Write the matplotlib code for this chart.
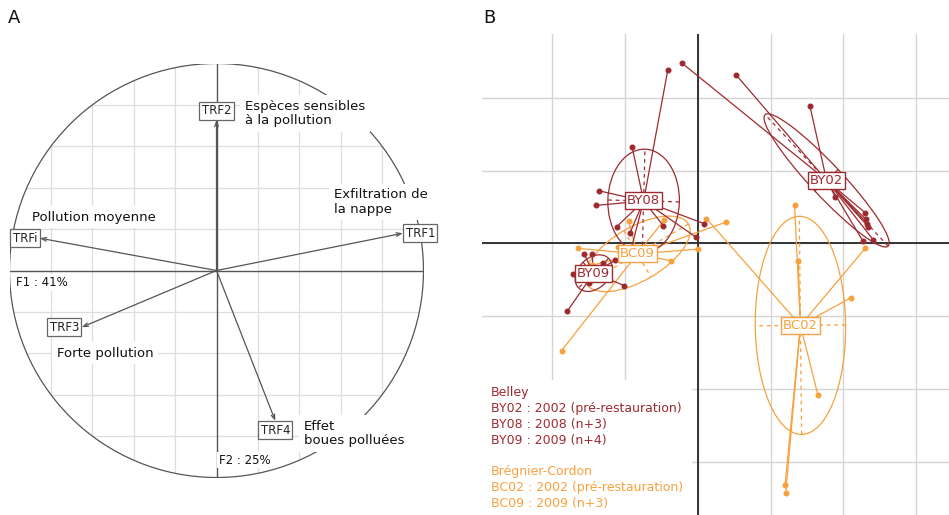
import numpy as np
import matplotlib
matplotlib.use("Agg")
import matplotlib.pyplot as plt
from matplotlib.patches import Circle, Ellipse, Rectangle

plt.rcParams['font.family'] = ['DejaVu Sans']

# ---------------- DATA ----------------
# Panel A: correlation circle (arrow tips in unit-circle coordinates)
trf_names = ["TRF1", "TRF2", "TRF3", "TRF4", "TRFi"]
trf_x = [0.90, 0.0, -0.651, 0.284, -0.853]
trf_y = [0.18, 0.727, -0.274, -0.726, 0.156]
axis_labels = ["F1 : 41%", "F2 : 25%"]
trait_texts = ["Espèces sensibles\nà la pollution", "Exfiltration de\nla nappe",
               "Pollution moyenne", "Forte pollution", "Effet\nboues polluées"]

# Panel B: site scores by group
groups = ["BY02", "BY08", "BY09", "BC02", "BC09"]
by02_x = [-0.21, 0.53, 1.54, 2.30, 2.31, 2.33, 2.34, 1.89, 2.27, 2.41]
by02_y = [2.47, 2.31, 1.89, 0.42, 0.33, 0.27, 0.23, 0.64, 0.03, 0.05]
by08_x = [-0.41, -0.90, -1.35, -1.40, -1.11, -0.93, -0.47, 0.09, -0.03, -0.92]
by08_y = [2.385, 1.32, 0.72, 0.52, 0.23, 0.14, 0.24, 0.27, 0.09, -0.10]
by09_x = [-1.56, -1.45, -1.30, -1.13, -1.71, -1.49, -1.01, -1.79]
by09_y = [-0.15, -0.15, -0.27, -0.23, -0.42, -0.55, -0.58, -0.93]
bc02_x = [0.12, 1.33, 1.38, 2.30, 2.10, 1.65, 1.20, 1.21]
bc02_y = [0.34, 0.53, -0.24, -0.07, -0.75, -2.08, -3.32, -3.43]
bc09_x = [-1.64, 0.0, -0.37, -1.87, -1.10, 0.385, -0.95, -0.46, -1.45]
bc09_y = [-0.07, -0.08, -0.24, -1.475, -0.05, 0.29, 0.30, 0.32, -0.30]
group_site = ["Belley", "Belley", "Belley", "Brégnier-Cordon", "Brégnier-Cordon"]
legend_belley = ["Belley", "BY02 : 2002 (pré-restauration)", "BY08 : 2008 (n+3)", "BY09 : 2009 (n+4)"]
legend_bc = ["Brégnier-Cordon", "BC02 : 2002 (pré-restauration)", "BC09 : 2009 (n+3)"]

site_colors = {"Belley": "#9e2a2f", "Brégnier-Cordon": "#f7a13e"}

W, H = 949, 515
fig = plt.figure(figsize=(W / 100, H / 100), dpi=100)


def fpos(px, py):
    return px / W, 1 - py / H


# ---------------- PANEL A ----------------
cx, cy, R = 216.5, 270.5, 207.0
axA = fig.add_axes([(cx - R) / W, (H - (cy + R)) / H, 2 * R / W, 2 * R / H])
axA.set_xlim(-1, 1)
axA.set_ylim(-1, 1)
axA.axis("off")

clip_circle = Circle((0, 0), 1, transform=axA.transData, fc="none", ec="none")
axA.add_patch(clip_circle)
for g in np.arange(-0.8, 0.81, 0.2):
    if abs(g) < 1e-9:
        continue
    l1, = axA.plot([g, g], [-1, 1], color="#dedede", lw=0.9, zorder=1)
    l2, = axA.plot([-1, 1], [g, g], color="#dedede", lw=0.9, zorder=1)
    l1.set_clip_path(clip_circle)
    l2.set_clip_path(clip_circle)

axA.plot([-1, 1], [0, 0], color="#555555", lw=1.0, zorder=2)
axA.plot([0, 0], [-1, 1], color="#555555", lw=1.0, zorder=2)
axA.add_patch(Circle((0, 0), 1, fc="none", ec="#555555", lw=0.9, zorder=2))

for name, x, y in zip(trf_names, trf_x, trf_y):
    axA.annotate("", xy=(x, y), xytext=(0, 0),
                 arrowprops=dict(arrowstyle="->,head_length=0.35,head_width=0.13",
                                 color="#555555", lw=0.9, shrinkA=0, shrinkB=0),
                 zorder=3)
    if abs(x) > abs(y):
        ha = "left" if x > 0 else "right"
        va = "center"
        off = (2 if x > 0 else -2, 0)
    else:
        ha = "center"
        va = "bottom" if y > 0 else "top"
        off = (0, 2 if y > 0 else -2)
    axA.annotate(name, xy=(x, y), xytext=off, textcoords="offset points",
                 ha=ha, va=va, fontsize=8.5, color="#222222", zorder=5,
                 bbox=dict(boxstyle="square,pad=0.2", fc="white", ec="#666666", lw=0.9))


def a_text(s, px, py, **kw):
    x, y = (px - cx) / R, (cy - py) / R
    axA.text(x, y, s, ha="left", va="center", color="#111111", zorder=4,
             linespacing=1.15, **kw)

box = dict(boxstyle="square,pad=0.35", fc="white", ec="none")
a_text(trait_texts[0], 245, 113.5, fontsize=9.5, bbox=box)
a_text(trait_texts[1], 334, 202, fontsize=9.5, bbox=box)
a_text(trait_texts[2], 32, 217, fontsize=9.5, bbox=box)
a_text(trait_texts[3], 57, 353.3, fontsize=9.5, bbox=box)
a_text(trait_texts[4], 304, 433.7, fontsize=9.5, bbox=box)
a_text(axis_labels[0], 16, 282.7, fontsize=8.5,
       bbox=dict(boxstyle="square,pad=0.15", fc="white", ec="none"))
a_text(axis_labels[1], 219, 460, fontsize=8.5,
       bbox=dict(boxstyle="square,pad=0.15", fc="white", ec="none"))

# ---------------- PANEL B ----------------
ox, oy, s = 697.7, 243.3, 72.8
left_px, right_px, top_px, bot_px = 482, 949, 34, 515
axB = fig.add_axes([left_px / W, (H - bot_px) / H, (right_px - left_px) / W, (bot_px - top_px) / H])
axB.set_xlim((left_px - ox) / s, (right_px - ox) / s)
axB.set_ylim((oy - bot_px) / s, (oy - top_px) / s)
axB.axis("off")

for g in range(-3, 4):
    axB.axvline(g, color="#d4d4d4", lw=1.0, zorder=0)
    axB.axhline(g, color="#d4d4d4", lw=1.0, zorder=0)
axB.axvline(0, color="#333333", lw=1.4, zorder=1)
axB.axhline(0, color="#333333", lw=1.4, zorder=1)

gx = [by02_x, by08_x, by09_x, bc02_x, bc09_x]
gy = [by02_y, by08_y, by09_y, bc02_y, bc09_y]
draw_order = [3, 4, 0, 1, 2]
for i in draw_order:
    name = groups[i]
    col = site_colors[group_site[i]]
    xs, ys = np.array(gx[i]), np.array(gy[i])
    mx, my = xs.mean(), ys.mean()
    for x, y in zip(xs, ys):
        axB.plot([mx, x], [my, y], color=col, lw=0.9, zorder=2)
    axB.plot(xs, ys, "o", color=col, ms=3.3, zorder=3, mec=col)
    cov = np.cov(np.vstack([xs, ys]), bias=True)
    vals, vecs = np.linalg.eigh(cov)
    order = np.argsort(vals)[::-1]
    vals, vecs = vals[order], vecs[:, order]
    a, b = np.sqrt(vals)
    ang = np.degrees(np.arctan2(vecs[1, 0], vecs[0, 0]))
    axB.add_patch(Ellipse((mx, my), 2 * a, 2 * b, angle=ang, fc="none", ec=col, lw=0.9, zorder=2))
    for k, ln in enumerate((a, b)):
        v = vecs[:, k] * ln
        axB.plot([mx - v[0], mx + v[0]], [my - v[1], my + v[1]], color=col, lw=0.9,
                 ls=(0, (3, 3)), zorder=2)
    axB.text(mx, my, name, ha="center", va="center", fontsize=9.5, color=col, zorder=6,
             bbox=dict(boxstyle="square,pad=0.15", fc="white", ec=col, lw=1.0))

# legend box
lx0, ly0 = fpos(482, 515)
lx1, ly1 = fpos(692, 380)
fig.patches.append(Rectangle((lx0, ly0), lx1 - lx0, ly1 - ly0, transform=fig.transFigure,
                             fc="white", ec="none", zorder=10))
for txt, py in zip(legend_belley, [392.7, 408.3, 424.3, 440.3]):
    fig.text(*fpos(491, py), txt, ha="left", va="center", fontsize=9,
             color=site_colors["Belley"], zorder=11)
for txt, py in zip(legend_bc, [471.7, 487.7, 503.7]):
    fig.text(*fpos(491, py), txt, ha="left", va="center", fontsize=9,
             color=site_colors["Brégnier-Cordon"], zorder=11)

fig.text(*fpos(8, 18), "A", ha="left", va="center", fontsize=13, color="#111111")
fig.text(*fpos(483, 18), "B", ha="left", va="center", fontsize=13, color="#111111")

fig.savefig("out.png", dpi=100)
